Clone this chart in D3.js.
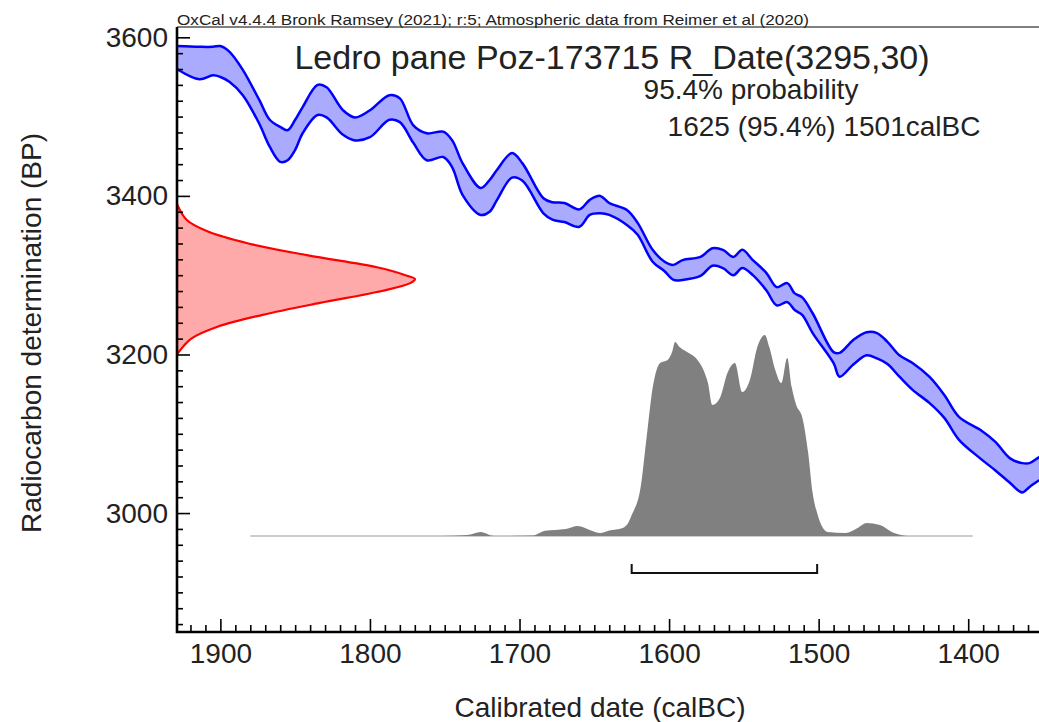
<!DOCTYPE html>
<html>
<head>
<meta charset="utf-8">
<script src="https://cdn.jsdelivr.net/npm/d3@7"></script>
<style>
  body { margin: 0; background: #fff; }
  svg text { font-family: 'Liberation Sans', Arial, sans-serif; fill: #222; }
</style>
</head>
<body>
<svg id="chart" width="1039" height="722"></svg>
<script>
'use strict';

// calibration curve (IntCal20): cal BC and BP (upper / lower edge of band)
var calYears = [1930, 1914, 1905, 1900, 1894, 1885, 1874, 1867, 1860, 1855, 1850, 1845, 1835, 1829, 1818,
  1810, 1800, 1787, 1780, 1771, 1762, 1751, 1745, 1738, 1726, 1720, 1715, 1705, 1698, 1684, 1678, 1670,
  1660, 1653, 1646, 1640, 1628, 1621, 1611, 1603, 1597, 1591, 1579, 1571, 1564, 1557, 1551, 1544, 1535,
  1528, 1521, 1516, 1511, 1504, 1490, 1486, 1477, 1468, 1461, 1454, 1446, 1437, 1426, 1416, 1406, 1392,
  1382, 1372, 1364, 1359, 1352, 1345];
var calUpper = [3589, 3588, 3588, 3589, 3582, 3559, 3521, 3496, 3487, 3483, 3496, 3512, 3540, 3537, 3508,
  3499, 3508, 3527, 3523, 3489, 3479, 3481, 3470, 3441, 3410, 3420, 3433, 3454, 3441, 3397, 3392, 3391,
  3383, 3395, 3400, 3391, 3382, 3366, 3332, 3317, 3313, 3319, 3323, 3334, 3332, 3323, 3332, 3319, 3303,
  3285, 3290, 3277, 3272, 3252, 3203, 3202, 3218, 3228, 3227, 3216, 3199, 3189, 3172, 3149, 3121, 3105,
  3090, 3069, 3063, 3063, 3071, 3075];
var calLower = [3561, 3547, 3552, 3550, 3544, 3527, 3491, 3462, 3443, 3445, 3458, 3479, 3502, 3499, 3477,
  3470, 3474, 3496, 3493, 3467, 3445, 3449, 3436, 3401, 3376, 3380, 3395, 3423, 3419, 3378, 3370, 3367,
  3361, 3376, 3378, 3376, 3363, 3351, 3317, 3305, 3294, 3294, 3299, 3312, 3309, 3300, 3309, 3300, 3281,
  3262, 3266, 3256, 3250, 3227, 3189, 3172, 3187, 3199, 3195, 3188, 3172, 3155, 3139, 3120, 3092, 3069,
  3054, 3038, 3026, 3033, 3042, 3048];

// radiocarbon measurement R_Date(3295,30), relative density
var dateBP = [3390, 3370, 3355, 3340, 3325, 3310, 3300, 3295, 3290, 3280, 3265, 3250, 3235, 3220, 3200];
var dateDens = [0, 0.04, 0.13, 0.30, 0.55, 0.84, 0.96, 1.00, 0.98, 0.86, 0.60, 0.36, 0.17, 0.06, 0];

// calibrated probability, relative to the highest peak
var postYears = [1880, 1753, 1735, 1726, 1717, 1691, 1683, 1669, 1661, 1653, 1646, 1640, 1631, 1627, 1625,
  1619, 1615, 1611, 1606, 1601, 1598, 1596, 1593, 1588, 1581, 1577, 1574, 1571, 1566, 1561, 1556, 1551,
  1546, 1541, 1536, 1533, 1529, 1525, 1521, 1518, 1515, 1511, 1507, 1504, 1501, 1494, 1482, 1474, 1468,
  1459, 1450, 1440, 1397];
var postProb = [0, 0, 0.005, 0.02, 0, 0.003, 0.026, 0.035, 0.05, 0.03, 0.015, 0.027, 0.04, 0.07, 0.104,
  0.244, 0.493, 0.736, 0.861, 0.876, 0.915, 0.965, 0.94, 0.915, 0.876, 0.826, 0.761, 0.652, 0.687, 0.811,
  0.861, 0.716, 0.776, 0.94, 1.0, 0.94, 0.826, 0.761, 0.886, 0.741, 0.652, 0.592, 0.413, 0.214, 0.114,
  0.02, 0.015, 0.04, 0.065, 0.055, 0.016, 0, 0];

// 95.4% range
var range95 = [1625, 1501];

var xTicks = [1900, 1800, 1700, 1600, 1500, 1400];
var yTicks = [3000, 3200, 3400, 3600];

var headerText = 'OxCal v4.4.4 Bronk Ramsey (2021); r:5; Atmospheric data from Reimer et al (2020)';
var titleText = 'Ledro pane Poz-173715 R_Date(3295,30)';
var probText = '95.4% probability';
var rangeText = '1625 (95.4%) 1501calBC';

var pLeft = 177, pTop = 27, pBottom = 632, pRight = 1043;

var x = d3.scaleLinear().domain([1929, 1350]).range([pLeft, pRight]);
var y = d3.scaleLinear().domain([2850, 3613]).range([pBottom, pTop]);
var dens = d3.scaleLinear().domain([0, 1]).range([pLeft, 415]);
var prob = d3.scaleLinear().domain([0, 1]).range([536, 335]);

var svg = d3.select('#chart');

svg.append('clipPath')
    .attr('id', 'plot')
  .append('rect')
    .attr('x', pLeft)
    .attr('y', pTop)
    .attr('width', pRight - pLeft)
    .attr('height', pBottom - pTop);

var plot = svg.append('g').attr('clip-path', 'url(#plot)');

// calibration band
var cal = calYears.map(function (d, i) { return { year: d, hi: calUpper[i], lo: calLower[i] }; });

plot.append('path')
    .datum(cal)
    .attr('fill', '#aaaaff')
    .attr('d', d3.area()
      .curve(d3.curveCatmullRom)
      .x(function (d) { return x(d.year); })
      .y0(function (d) { return y(d.lo); })
      .y1(function (d) { return y(d.hi); }));

['hi', 'lo'].forEach(function (k) {
  plot.append('path')
      .datum(cal)
      .attr('fill', 'none')
      .attr('stroke', '#0000ff')
      .attr('stroke-width', 2.5)
      .attr('d', d3.line()
        .curve(d3.curveCatmullRom)
        .x(function (d) { return x(d.year); })
        .y(function (d) { return y(d[k]); }));
});

// measurement on the y axis
var meas = dateBP.map(function (d, i) { return { bp: d, p: dateDens[i] }; });

plot.append('path')
    .datum(meas)
    .attr('fill', '#ffaaaa')
    .attr('stroke', '#ff0000')
    .attr('stroke-width', 2.2)
    .attr('d', d3.area()
      .curve(d3.curveCatmullRom)
      .y(function (d) { return y(d.bp); })
      .x0(pLeft)
      .x1(function (d) { return dens(d.p); }));

// calibrated distribution
var post = postYears.map(function (d, i) { return { year: d, p: postProb[i] }; });

plot.append('line')
    .attr('x1', x(d3.max(postYears)))
    .attr('x2', x(d3.min(postYears)))
    .attr('y1', prob(0))
    .attr('y2', prob(0))
    .attr('stroke', '#999')
    .attr('stroke-width', 1);

plot.append('path')
    .datum(post)
    .attr('fill', '#808080')
    .attr('d', d3.area()
      .curve(d3.curveMonotoneX)
      .x(function (d) { return x(d.year); })
      .y0(prob(0))
      .y1(function (d) { return prob(d.p); }));

// range bracket
plot.append('path')
    .attr('fill', 'none')
    .attr('stroke', '#111')
    .attr('stroke-width', 2)
    .attr('d', 'M' + x(range95[0]) + ',564V573H' + x(range95[1]) + 'V564');

// axes
var yMinor = d3.range(2860, 3613, 20).filter(function (d) { return yTicks.indexOf(d) < 0; });
var xMinor = d3.range(1920, 1350, -10).filter(function (d) { return xTicks.indexOf(d) < 0; });

svg.append('g')
    .attr('transform', 'translate(' + pLeft + ',0)')
    .call(d3.axisLeft(y).tickValues(yMinor).tickSizeInner(-6).tickSizeOuter(0).tickFormat(''));
svg.append('g')
    .attr('transform', 'translate(' + pLeft + ',0)')
    .call(d3.axisLeft(y).tickValues(yTicks).tickSizeInner(-13).tickSizeOuter(0).tickPadding(9)
      .tickFormat(d3.format('d')));
svg.append('g')
    .attr('transform', 'translate(0,' + pBottom + ')')
    .call(d3.axisBottom(x).tickValues(xMinor).tickSizeInner(-7).tickSizeOuter(0).tickFormat(''));
svg.append('g')
    .attr('transform', 'translate(0,' + pBottom + ')')
    .call(d3.axisBottom(x).tickValues(xTicks).tickSizeInner(-13).tickSizeOuter(0).tickPadding(11)
      .tickFormat(d3.format('d')));

svg.selectAll('.domain').remove();
svg.selectAll('.tick line').attr('stroke', '#000').attr('stroke-width', 1.6);
svg.selectAll('.tick text').style('font-size', '28px').attr('fill', '#222');

// frame
svg.append('line')
    .attr('x1', pLeft).attr('x2', 1039).attr('y1', pTop).attr('y2', pTop)
    .attr('stroke', '#000').attr('stroke-width', 1);
svg.append('path')
    .attr('fill', 'none')
    .attr('stroke', '#000')
    .attr('stroke-width', 2.6)
    .attr('d', 'M' + pLeft + ',' + pTop + 'V' + pBottom + 'H1039');

// texts
svg.append('text')
    .attr('x', pLeft).attr('y', 25)
    .attr('textLength', 632)
    .attr('lengthAdjust', 'spacingAndGlyphs')
    .style('font-size', '14px')
    .text(headerText);
svg.append('text')
    .attr('x', 612).attr('y', 69)
    .attr('text-anchor', 'middle')
    .style('font-size', '34px')
    .text(titleText);
svg.append('text')
    .attr('x', 751).attr('y', 99)
    .attr('text-anchor', 'middle')
    .style('font-size', '28px')
    .text(probText);
svg.append('text')
    .attr('x', 824).attr('y', 136)
    .attr('text-anchor', 'middle')
    .style('font-size', '28px')
    .text(rangeText);

svg.append('text')
    .attr('transform', 'translate(41,333) rotate(-90)')
    .attr('text-anchor', 'middle')
    .style('font-size', '28px')
    .text('Radiocarbon determination (BP)');
svg.append('text')
    .attr('x', 600).attr('y', 717)
    .attr('text-anchor', 'middle')
    .style('font-size', '28px')
    .text('Calibrated date (calBC)');
</script>
</body>
</html>
